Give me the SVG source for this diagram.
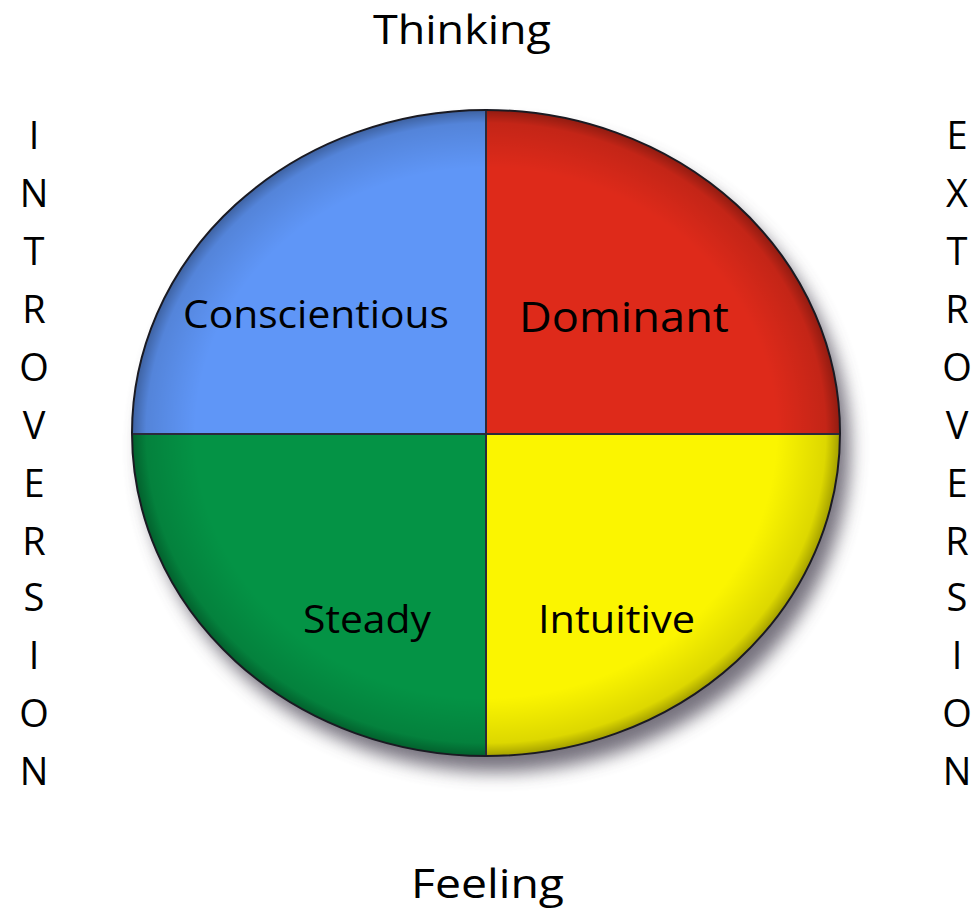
<svg xmlns="http://www.w3.org/2000/svg" width="974" height="915" viewBox="0 0 974 915">
<defs>
<style>
.t{font-family:"Open Sans","Liberation Sans",sans-serif;fill:#000;}
.big{font-size:40px;}
.lbl{font-size:38px;}
.col{font-size:38px;text-anchor:middle;}
.div{stroke:#2a2a3a;stroke-width:2;fill:none;}
</style>
<filter id="sh" x="-20%" y="-20%" width="140%" height="140%">
<feGaussianBlur stdDeviation="9"/>
</filter>
<radialGradient id="rim" cx="0.5" cy="0.5" r="0.5">
<stop offset="0.82" stop-color="#000" stop-opacity="0"/>
<stop offset="0.96" stop-color="#000" stop-opacity="0.12"/>
<stop offset="1" stop-color="#000" stop-opacity="0.35"/>
</radialGradient>
<clipPath id="ell"><ellipse cx="486" cy="433" rx="354" ry="323"/></clipPath>
</defs>
<rect width="974" height="915" fill="#fff"/>
<ellipse cx="496" cy="449" rx="354" ry="323" fill="#5e5a68" opacity="0.85" filter="url(#sh)"/>
<g id="quadrants" clip-path="url(#ell)">
<g id="conscientious-q"><rect x="120" y="100" width="366" height="333" fill="#5f96f7"/></g>
<g id="dominant-q"><rect x="486" y="100" width="366" height="333" fill="#de2a1a"/></g>
<g id="steady-q"><rect x="120" y="433" width="366" height="333" fill="#049345"/></g>
<g id="intuitive-q"><rect x="486" y="433" width="366" height="333" fill="#fbf500"/></g>
<ellipse cx="486" cy="433" rx="354" ry="323" fill="url(#rim)"/>
</g>
<g id="connectors">
<line class="div" x1="486" y1="110" x2="486" y2="756"/>
<line class="div" x1="132" y1="434" x2="840" y2="434"/>
<ellipse cx="486" cy="433" rx="354" ry="323" fill="none" stroke="#1a1a22" stroke-width="2"/>
</g>
<g id="conscientious"><text class="t lbl" x="183" y="328" textLength="266" lengthAdjust="spacingAndGlyphs">Conscientious</text></g>
<g id="dominant"><text class="t lbl" x="519" y="332" textLength="210" lengthAdjust="spacingAndGlyphs" style="font-size:42px">Dominant</text></g>
<g id="steady"><text class="t lbl" x="303" y="633" textLength="128" lengthAdjust="spacingAndGlyphs">Steady</text></g>
<g id="intuitive"><text class="t lbl" x="538" y="633" textLength="157" lengthAdjust="spacingAndGlyphs">Intuitive</text></g>
<g id="thinking"><text class="t big" x="373" y="44" textLength="178" lengthAdjust="spacingAndGlyphs">Thinking</text></g>
<g id="feeling"><text class="t big" x="411" y="898" textLength="153" lengthAdjust="spacingAndGlyphs">Feeling</text></g>
<g id="introversion">
<text class="t col" x="34" y="149">I</text>
<text class="t col" x="34" y="207">N</text>
<text class="t col" x="34" y="265">T</text>
<text class="t col" x="34" y="323">R</text>
<text class="t col" x="34" y="381">O</text>
<text class="t col" x="34" y="439">V</text>
<text class="t col" x="34" y="497">E</text>
<text class="t col" x="34" y="555">R</text>
<text class="t col" x="34" y="611">S</text>
<text class="t col" x="34" y="669">I</text>
<text class="t col" x="34" y="727">O</text>
<text class="t col" x="34" y="785">N</text>
</g>
<g id="extroversion">
<text class="t col" x="957" y="149">E</text>
<text class="t col" x="957" y="207">X</text>
<text class="t col" x="957" y="265">T</text>
<text class="t col" x="957" y="323">R</text>
<text class="t col" x="957" y="381">O</text>
<text class="t col" x="957" y="439">V</text>
<text class="t col" x="957" y="497">E</text>
<text class="t col" x="957" y="555">R</text>
<text class="t col" x="957" y="611">S</text>
<text class="t col" x="957" y="669">I</text>
<text class="t col" x="957" y="727">O</text>
<text class="t col" x="957" y="785">N</text>
</g>
</svg>
